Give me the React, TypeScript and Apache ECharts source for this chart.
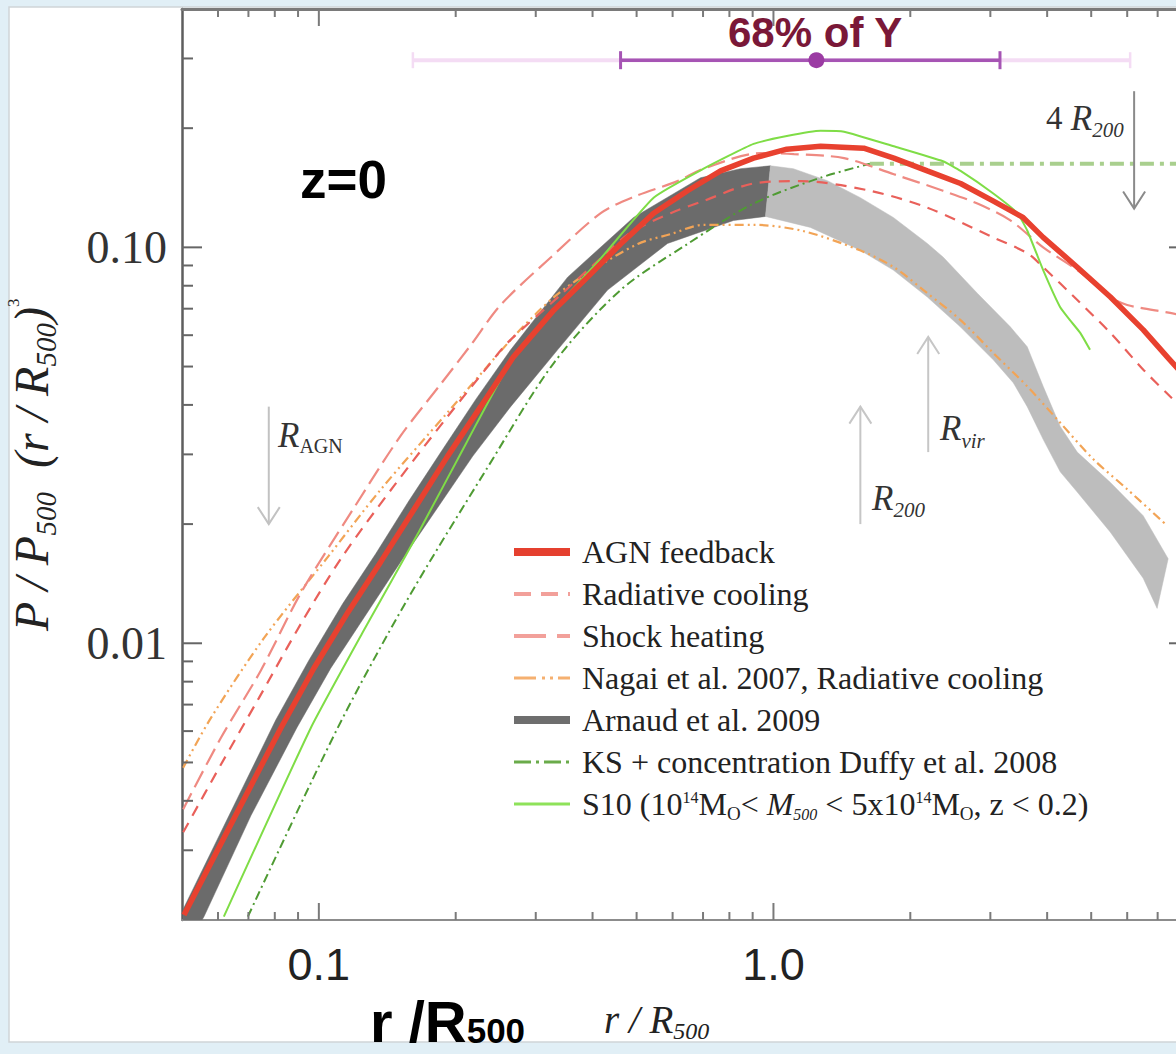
import React, { useEffect, useRef } from "react";
import * as echarts from "echarts";

// ---------------- axis ranges & ticks ----------------
const X_MIN = 0.05;
const X_MAX = 8;
const Y_MIN = 0.002;
const Y_MAX = 0.4;

const xTickValues = [0.1, 1];
const xTickLabels = ["0.1", "1.0"];
const xMinorTicks = [0.06, 0.07, 0.08, 0.09, 0.2, 0.3, 0.4, 0.5, 0.6, 0.7, 0.8, 0.9, 2, 3, 4, 5, 6, 7];
const yTickValues = [0.01, 0.1];
const yTickLabels = ["0.01", "0.10"];
const yMinorTicks = [0.003, 0.004, 0.005, 0.006, 0.007, 0.008, 0.009, 0.02, 0.03, 0.04, 0.05, 0.06, 0.07, 0.08, 0.09, 0.2, 0.3];

// ---------------- series names ----------------
const NAME_AGN = "AGN feedback";
const NAME_RAD = "Radiative cooling";
const NAME_SHOCK = "Shock heating";
const NAME_NAGAI = "Nagai et al. 2007, Radiative cooling";
const NAME_ARNAUD = "Arnaud et al. 2009";
const NAME_KS = "KS + concentration Duffy et al. 2008";
const NAME_S10 = "S10 (10^14 MO< M500 < 5x10^14 MO, z < 0.2)";

// ---------------- data: [r/R500, P/P500 (r/R500)^3] ----------------
const agnFeedback = [
  [0.0505, 0.00206], [0.0825, 0.00611], [0.0975, 0.00865], [0.116, 0.012], [0.137, 0.0161],
  [0.162, 0.0218], [0.192, 0.0297], [0.227, 0.0396], [0.268, 0.0529], [0.329, 0.0695],
  [0.39, 0.0841], [0.461, 0.102], [0.545, 0.122], [0.647, 0.139], [0.765, 0.156],
  [0.904, 0.168], [1.07, 0.177], [1.27, 0.18], [1.58, 0.178], [1.84, 0.168],
  [2.18, 0.156], [2.58, 0.145], [3.04, 0.131], [3.54, 0.119], [3.92, 0.106],
  [4.66, 0.0891], [5.51, 0.0749], [6.51, 0.0619], [7.38, 0.0526], [7.8, 0.049],
];

const radiativeCooling = [
  [0.0503, 0.00333], [0.0609, 0.00494], [0.0738, 0.00727], [0.0913, 0.0112], [0.112, 0.0164],
  [0.146, 0.0249], [0.192, 0.0374], [0.235, 0.0499], [0.26, 0.0574], [0.34, 0.0758],
  [0.417, 0.0938], [0.485, 0.109], [0.594, 0.122], [0.702, 0.131], [0.904, 0.145],
  [1.15, 0.147], [1.63, 0.139], [2.18, 0.126], [3.04, 0.106], [3.62, 0.0966],
  [3.92, 0.0891], [4.66, 0.0736], [5.51, 0.0608], [6.51, 0.0491], [7.46, 0.042], [7.8, 0.04],
];

const shockHeating = [
  [0.0503, 0.00381], [0.0609, 0.00577], [0.0746, 0.00855], [0.0913, 0.0134], [0.118, 0.0215],
  [0.151, 0.0333], [0.185, 0.045], [0.216, 0.0567], [0.251, 0.0715], [0.324, 0.0944],
  [0.417, 0.122], [0.492, 0.134], [0.615, 0.147], [0.702, 0.158], [0.937, 0.173],
  [1.11, 0.172], [1.43, 0.168], [1.84, 0.153], [2.36, 0.139], [2.81, 0.129],
  [3.32, 0.117], [3.92, 0.1], [4.66, 0.0876], [5.51, 0.0749], [6.0, 0.0715],
  [7.46, 0.0683], [7.8, 0.0675],
];

const nagai2007 = [
  [0.0503, 0.00485], [0.0579, 0.00648], [0.0757, 0.0103], [0.105, 0.0166], [0.137, 0.0245],
  [0.192, 0.0383], [0.268, 0.0594], [0.329, 0.0749], [0.39, 0.0861], [0.503, 0.102],
  [0.594, 0.108], [0.702, 0.114], [0.904, 0.114], [1.16, 0.11], [1.55, 0.0983],
  [1.84, 0.0891], [2.18, 0.0766], [2.58, 0.0655], [3.04, 0.0542], [3.62, 0.0445],
  [4.27, 0.0361], [5.05, 0.0292], [6.0, 0.0245], [7.35, 0.0198],
];

const arnaudDarkUpper = [
  [0.0503, 0.00213], [0.0804, 0.0064], [0.0951, 0.00906], [0.1129, 0.0126], [0.1334, 0.01683],
  [0.1577, 0.02287], [0.1873, 0.0309], [0.2214, 0.0413], [0.2642, 0.0551], [0.3526, 0.0841],
  [0.4923, 0.119], [0.6913, 0.1499], [0.8462, 0.158], [0.985, 0.1607],
];
const arnaudDarkLower = [
  [0.0503, 0.00166], [0.0559, 0.00204], [0.0709, 0.00367], [0.0894, 0.00611], [0.1062, 0.00865],
  [0.1514, 0.01607], [0.2181, 0.0297], [0.2642, 0.0396], [0.3351, 0.0551], [0.4316, 0.078],
  [0.5848, 0.1023], [0.8168, 0.1169], [0.9603, 0.1197],
];
const arnaudLightUpper = [
  [0.985, 0.1607], [1.106, 0.158], [1.314, 0.1474], [1.553, 0.1335], [1.835, 0.119],
  [2.18, 0.1023], [2.364, 0.0944], [2.808, 0.0766], [3.319, 0.063], [3.616, 0.0561],
  [3.922, 0.0445], [4.274, 0.0353], [4.658, 0.0304], [5.505, 0.0255], [6.506, 0.021], [7.383, 0.01635],
];
const arnaudLightLower = [
  [0.9603, 0.1197], [1.206, 0.1123], [1.553, 0.0983], [1.835, 0.0876], [2.18, 0.0749],
  [2.576, 0.063], [3.044, 0.052], [3.369, 0.0455], [3.616, 0.0396], [3.922, 0.0327],
  [4.274, 0.0271], [4.658, 0.0241], [5.505, 0.0191], [6.506, 0.0146], [6.982, 0.01225],
];

const ksDuffy = [
  [0.0698, 0.00204], [0.11, 0.00611], [0.156, 0.0128], [0.235, 0.0278], [0.329, 0.0511],
  [0.461, 0.078], [0.647, 0.102], [0.904, 0.129], [1.27, 0.15], [1.63, 0.1626],
];
const ksDuffyOuter = [[1.63, 0.1626], [8.0, 0.1626]];

const s10 = [
  [0.0618, 0.00204], [0.096, 0.00611], [0.1256, 0.01078], [0.1659, 0.0191], [0.2115, 0.0322],
  [0.2723, 0.0545], [0.41, 0.0917], [0.545, 0.1335], [0.702, 0.158], [0.904, 0.1825],
  [1.07, 0.191], [1.27, 0.197], [1.43, 0.196], [1.84, 0.18], [2.36, 0.165],
  [2.58, 0.156], [3.04, 0.137], [3.44, 0.122], [3.62, 0.11], [3.92, 0.0876],
  [4.27, 0.0707], [4.49, 0.0655], [4.73, 0.0608], [4.97, 0.0551],
];

// radius markers (vertical arrows)
const markerX = [0.0776, 1.553, 2.19, 6.214];
const markerTail = [0.0396, 0.02, 0.0304, 0.248];
const markerHead = [0.02, 0.0396, 0.0594, 0.1253];

// "68% of Y" interval
const yErrCenter = 1.243;
const yErrLevel = 0.297;
const yErrInner = [0.461, 3.15];
const yErrOuter = [0.161, 6.09];

// ---------------- styles ----------------
const SERIF = "'Liberation Serif', 'Times New Roman', serif";
const SANS = "'Liberation Sans', Arial, sans-serif";
const markerColors = ["#c2c2c2", "#c6c6c6", "#c6c6c6", "#8a8a8a"];

function matchLabel(v: number, vals: number[], labels: string[]) {
  for (let i = 0; i < vals.length; i++) {
    if (Math.abs(Math.log10(v / vals[i])) < 0.01) return labels[i];
  }
  return "";
}

function band(upper: number[][], lower: number[][], color: string, name: string) {
  return {
    type: "custom",
    name,
    coordinateSystem: "cartesian2d",
    clip: true,
    silent: true,
    z: 1,
    itemStyle: { color },
    data: [[1, 0.1]],
    renderItem: (_p: any, api: any) => {
      const pts = upper
        .map((p) => api.coord(p))
        .concat(lower.slice().reverse().map((p) => api.coord(p)));
      return { type: "polygon", shape: { points: pts }, style: { fill: color, stroke: color, lineWidth: 0.5 } };
    },
  };
}

function line(name: string, data: number[][], color: string, width: number, type: any, smooth: any, z = 4) {
  return {
    type: "line",
    name,
    data,
    symbol: "none",
    showSymbol: false,
    smooth,
    clip: true,
    silent: true,
    z,
    lineStyle: { color, width, type },
    itemStyle: { color },
  };
}

function richText(x: number, y: number, text: string, rich: any, extra: any = {}) {
  return {
    type: "text",
    x,
    y,
    z: 100,
    silent: true,
    ...extra,
    style: { text, rich, align: "left", verticalAlign: "middle", ...(extra.style || {}) },
  };
}

function buildOption(): any {
  const legendRich = {
    sup: { fontFamily: SERIF, fontSize: 16, color: "#222", padding: [0, 0, 14, 0] },
    subO: { fontFamily: SERIF, fontSize: 19, color: "#222", padding: [18, 0, 0, 0] },
    sub: { fontFamily: SERIF, fontSize: 16, fontStyle: "italic", color: "#222", padding: [21, 0, 0, 0] },
    it: { fontFamily: SERIF, fontSize: 32, fontStyle: "italic", color: "#222" },
  };

  const axisTickColor = "#7a7a7a";

  return {
    animation: false,
    backgroundColor: "#e1eff6",
    grid: { left: 182, right: -8, top: 9, bottom: 134, containLabel: false, outerBoundsMode: "none" },
    xAxis: [
      {
        type: "log",
        logBase: 10,
        min: X_MIN,
        max: X_MAX,
        position: "bottom",
        axisLine: { show: true, lineStyle: { color: "#8c8c8c", width: 2 } },
        axisTick: { show: false },
        minorTick: { show: false },
        splitLine: { show: false },
        minorSplitLine: { show: false },
        axisLabel: {
          show: true,
          margin: 22,
          fontFamily: SANS,
          fontSize: 45,
          color: "#222",
          hideOverlap: false,
          formatter: (v: number) => matchLabel(v, xTickValues, xTickLabels),
        },
      },
      {
        type: "log",
        logBase: 10,
        min: X_MIN,
        max: X_MAX,
        position: "top",
        axisLine: { show: true, lineStyle: { color: "#7a7a7a", width: 3 } },
        axisTick: { show: false },
        axisLabel: { show: false },
        splitLine: { show: false },
      },
    ],
    yAxis: [
      {
        type: "log",
        logBase: 10,
        min: Y_MIN,
        max: Y_MAX,
        position: "left",
        axisLine: { show: true, lineStyle: { color: "#5e5e5e", width: 2.5 } },
        axisTick: { show: false },
        minorTick: { show: false },
        splitLine: { show: false },
        axisLabel: {
          show: true,
          margin: 15,
          fontFamily: SERIF,
          fontSize: 46,
          color: "#333",
          formatter: (v: number) => matchLabel(v, yTickValues, yTickLabels),
        },
      },
    ],
    legend: {
      show: true,
      orient: "vertical",
      left: 510,
      top: 531,
      padding: 0,
      itemWidth: 56,
      itemHeight: 14,
      itemGap: 0,
      selectedMode: false,
      itemStyle: { opacity: 0 },
      textStyle: {
        fontFamily: SERIF,
        fontSize: 32,
        color: "#222",
        lineHeight: 42,
        padding: [0, 0, 0, 7],
        rich: legendRich,
      },
      formatter: (name: string) =>
        name === NAME_S10
          ? "S10 (10{sup|14}M{subO|O}< {it|M}{sub|500} < 5x10{sup|14}M{subO|O}, z < 0.2)"
          : name,
      data: [
        { name: NAME_AGN, lineStyle: { width: 8, color: "#e5402f" } },
        { name: NAME_RAD, lineStyle: { width: 4, type: [17, 10], color: "#f2a09a" } },
        { name: NAME_SHOCK, lineStyle: { width: 4, type: [32, 11, 13, 11], color: "#f2a09a" } },
        { name: NAME_NAGAI, lineStyle: { width: 3, type: [22, 6, 3, 5, 3, 5], color: "#f5b070" } },
        { name: NAME_ARNAUD, icon: "path://M0,0H56V8H0Z", itemStyle: { opacity: 1, color: "#6e6e6e" } },
        { name: NAME_KS, lineStyle: { width: 3, type: [17, 5, 3, 5], color: "#6aab4a" } },
        { name: NAME_S10, lineStyle: { width: 3, color: "#8ee25a" } },
      ],
    },
    graphic: [
      {
        type: "rect",
        x: 9,
        y: 7,
        z: -10,
        silent: true,
        shape: { width: 1180, height: 1035 },
        style: { fill: "#ffffff", stroke: "#cfd5d8", lineWidth: 1.5 },
      },
      richText(300, 179, "z=0", null, {
        style: { fontFamily: SANS, fontWeight: "bold", fontSize: 53, fill: "#000" },
      }),
      richText(728, 32, "68% of Y", null, {
        style: { fontFamily: SANS, fontWeight: "bold", fontSize: 42, fill: "#7a1838" },
      }),
      richText(370, 1021, "{b|r /R}{bs|500}", {
        b: { fontFamily: SANS, fontWeight: "bold", fontSize: 58, fill: "#000" },
        bs: { fontFamily: SANS, fontWeight: "bold", fontSize: 35, fill: "#000", padding: [18, 0, 0, 0] },
      }),
      richText(604, 1019, "{i|r / R}{s|500}", {
        i: { fontFamily: SERIF, fontStyle: "italic", fontSize: 39, fill: "#222" },
        s: { fontFamily: SERIF, fontStyle: "italic", fontSize: 24, fill: "#222", padding: [24, 0, 0, 0] },
      }),
      richText(
        31,
        465,
        "{i|P / P}{s|500}{i|  (r / R}{s|500}{i|)}{p|3}",
        {
          i: { fontFamily: SERIF, fontStyle: "italic", fontSize: 48, fill: "#222" },
          s: { fontFamily: SERIF, fontStyle: "italic", fontSize: 29, fill: "#222", padding: [29, 0, 0, 0] },
          p: { fontFamily: SERIF, fontSize: 17, fill: "#222", padding: [0, 0, 36, 0] },
        },
        { rotation: Math.PI / 2, style: { align: "center" } }
      ),
      richText(278, 435, "{R|R}{s|AGN}", {
        R: { fontFamily: SERIF, fontStyle: "italic", fontSize: 35, fill: "#333" },
        s: { fontFamily: SERIF, fontSize: 20, fill: "#333", padding: [22, 0, 0, 0] },
      }),
      richText(872, 498, "{R|R}{s|200}", {
        R: { fontFamily: SERIF, fontStyle: "italic", fontSize: 35, fill: "#333" },
        s: { fontFamily: SERIF, fontStyle: "italic", fontSize: 21, fill: "#333", padding: [24, 0, 0, 0] },
      }),
      richText(940, 428, "{R|R}{s|vir}", {
        R: { fontFamily: SERIF, fontStyle: "italic", fontSize: 35, fill: "#333" },
        s: { fontFamily: SERIF, fontStyle: "italic", fontSize: 21, fill: "#333", padding: [26, 0, 0, 0] },
      }),
      richText(1046, 118, "{n|4 }{R|R}{s|200}", {
        n: { fontFamily: SERIF, fontSize: 33, fill: "#333" },
        R: { fontFamily: SERIF, fontStyle: "italic", fontSize: 35, fill: "#333" },
        s: { fontFamily: SERIF, fontStyle: "italic", fontSize: 21, fill: "#333", padding: [24, 0, 0, 0] },
      }),
    ],
    series: [
      band(arnaudDarkUpper, arnaudDarkLower, "#6b6b6b", NAME_ARNAUD),
      band(arnaudLightUpper, arnaudLightLower, "#bdbdbd", NAME_ARNAUD),
      line(NAME_KS, ksDuffy, "#4f9b33", 2, [9, 4, 2, 4], 0.3),
      line("KS outer", ksDuffyOuter, "#a9cf8e", 4, [14, 6, 4, 6], false),
      line(NAME_NAGAI, nagai2007, "#f2a456", 2.2, [9, 4, 2, 4, 2, 4], 0.3),
      line(NAME_SHOCK, shockHeating, "#ef8a82", 2.2, [18, 7], 0.3),
      line(NAME_RAD, radiativeCooling, "#e9605a", 2.2, [11, 8], 0.3),
      line(NAME_S10, s10, "#7fdd46", 2, "solid", 0.15),
      line(NAME_AGN, agnFeedback, "#e8412f", 5.5, "solid", false, 5),
      {
        type: "custom",
        name: "markers",
        coordinateSystem: "cartesian2d",
        silent: true,
        clip: false,
        z: 6,
        data: markerX.map((x, i) => [x, markerTail[i], markerHead[i], i]),
        renderItem: (_p: any, api: any) => {
          const i = api.value(3);
          const p0 = api.coord([api.value(0), api.value(1)]);
          const p1 = api.coord([api.value(0), api.value(2)]);
          const dir = p1[1] > p0[1] ? 1 : -1;
          const c = markerColors[i];
          return {
            type: "group",
            children: [
              { type: "line", shape: { x1: p0[0], y1: p0[1], x2: p1[0], y2: p1[1] }, style: { stroke: c, lineWidth: 2 } },
              {
                type: "polyline",
                shape: { points: [[p1[0] - 11, p1[1] - dir * 17], [p1[0], p1[1]], [p1[0] + 11, p1[1] - dir * 17]] },
                style: { stroke: c, lineWidth: 2, fill: "none" },
              },
            ],
          };
        },
      },
      {
        type: "custom",
        name: "interval",
        coordinateSystem: "cartesian2d",
        silent: true,
        clip: false,
        z: 6,
        data: [[yErrCenter, yErrLevel, yErrInner[0], yErrInner[1], yErrOuter[0], yErrOuter[1]]],
        renderItem: (_p: any, api: any) => {
          const y = api.value(1);
          const c = api.coord([api.value(0), y]);
          const i0 = api.coord([api.value(2), y]);
          const i1 = api.coord([api.value(3), y]);
          const o0 = api.coord([api.value(4), y]);
          const o1 = api.coord([api.value(5), y]);
          const light = "#f4dcf4";
          const dark = "#a654b4";
          return {
            type: "group",
            children: [
              { type: "line", shape: { x1: o0[0], y1: o0[1], x2: o1[0], y2: o1[1] }, style: { stroke: light, lineWidth: 4 } },
              { type: "line", shape: { x1: o0[0], y1: o0[1] - 8, x2: o0[0], y2: o0[1] + 8 }, style: { stroke: light, lineWidth: 2.5 } },
              { type: "line", shape: { x1: o1[0], y1: o1[1] - 8, x2: o1[0], y2: o1[1] + 8 }, style: { stroke: light, lineWidth: 2.5 } },
              { type: "line", shape: { x1: i0[0], y1: i0[1], x2: i1[0], y2: i1[1] }, style: { stroke: dark, lineWidth: 3.5 } },
              { type: "line", shape: { x1: i0[0], y1: i0[1] - 9, x2: i0[0], y2: i0[1] + 9 }, style: { stroke: dark, lineWidth: 3 } },
              { type: "line", shape: { x1: i1[0], y1: i1[1] - 9, x2: i1[0], y2: i1[1] + 9 }, style: { stroke: dark, lineWidth: 3 } },
              { type: "circle", shape: { cx: c[0], cy: c[1], r: 8 }, style: { fill: "#9b3ba3" } },
            ],
          };
        },
      },
      {
        type: "custom",
        name: "xticks",
        coordinateSystem: "cartesian2d",
        silent: true,
        clip: false,
        z: 7,
        data: [...xTickValues.map((v) => [v, Y_MIN, 1]), ...xMinorTicks.map((v) => [v, Y_MIN, 0])],
        renderItem: (_p: any, api: any) => {
          const v = api.value(0);
          const major = api.value(2) === 1;
          const b = api.coord([v, Y_MIN]);
          const t = api.coord([v, Y_MAX]);
          const len = major ? 17 : 8;
          return {
            type: "group",
            children: [
              { type: "line", shape: { x1: b[0], y1: b[1], x2: b[0], y2: b[1] - len }, style: { stroke: axisTickColor, lineWidth: 2 } },
              { type: "line", shape: { x1: t[0], y1: t[1], x2: t[0], y2: t[1] + len }, style: { stroke: axisTickColor, lineWidth: 2 } },
            ],
          };
        },
      },
      {
        type: "custom",
        name: "yticks",
        coordinateSystem: "cartesian2d",
        silent: true,
        clip: false,
        z: 7,
        data: [...yTickValues.map((v) => [X_MIN, v, 1]), ...yMinorTicks.map((v) => [X_MIN, v, 0])],
        renderItem: (_p: any, api: any) => {
          const v = api.value(1);
          const major = api.value(2) === 1;
          const l = api.coord([X_MIN, v]);
          const r = api.coord([X_MAX, v]);
          const len = major ? 20 : 11;
          const children: any[] = [
            { type: "line", shape: { x1: l[0], y1: l[1], x2: l[0] + len, y2: l[1] }, style: { stroke: "#666", lineWidth: 2 } },
          ];
          if (major) {
            children.push({ type: "line", shape: { x1: r[0], y1: r[1], x2: r[0] - 15, y2: r[1] }, style: { stroke: "#666", lineWidth: 2 } });
          }
          return { type: "group", children };
        },
      },
    ],
  };
}

export default function App() {
  const ref = useRef<HTMLDivElement>(null);
  useEffect(() => {
    if (!ref.current) return;
    const chart = echarts.init(ref.current, null, { renderer: "svg" });
    chart.setOption(buildOption());
    return () => chart.dispose();
  }, []);
  return (
    <div
      ref={ref}
      style={{ position: "fixed", left: 0, top: 0, width: 1176, height: 1054 }}
    />
  );
}
